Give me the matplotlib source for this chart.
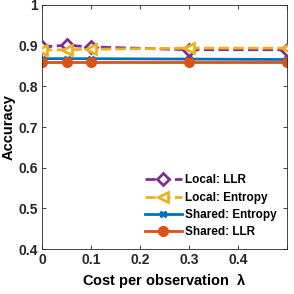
import matplotlib
matplotlib.use("Agg")
import matplotlib.pyplot as plt

plt.rcParams['font.family'] = ['Liberation Sans', 'DejaVu Sans']
plt.rcParams['font.weight'] = 'bold'

x = [0, 0.05, 0.1, 0.3, 0.5]
local_llr = [0.897, 0.901, 0.897, 0.890, 0.890]
local_entropy = [0.889, 0.890, 0.891, 0.894, 0.894]
shared_entropy = [0.868, 0.868, 0.868, 0.867, 0.866]
shared_llr = [0.860, 0.860, 0.860, 0.860, 0.860]
labels = ['Local: LLR', 'Local: Entropy', 'Shared: Entropy', 'Shared: LLR']

fig = plt.figure(figsize=(2.94, 2.94), dpi=100)
ax = fig.add_axes([0.143, 0.153, 0.833, 0.830])

ax.plot(x, local_llr, color='#7E2F8E', ls='--', lw=2, marker='D', ms=6.5,
        mfc='white', mew=2, label=labels[0], zorder=3)
ax.plot(x, local_entropy, color='#EDB120', ls='--', lw=2, marker='<', ms=7.5,
        mfc='white', mew=2, label=labels[1], zorder=4)
ax.plot(x, shared_entropy, color='#0072BD', ls='-', lw=2, marker='x', ms=4,
        mew=2, label=labels[2], zorder=2)
ax.plot(x, shared_llr, color='#D95319', ls='-', lw=2, marker='o', ms=7,
        mfc='#D95319', label=labels[3], zorder=2)

ax.set_xlim(0, 0.5)
ax.set_ylim(0.4, 1.0)
ax.set_xticks([0, 0.1, 0.2, 0.3, 0.4, 0.5])
ax.set_xticklabels(['0', '0.1', '0.2', '0.3', '0.4', ''])
ax.set_yticks([0.4, 0.5, 0.6, 0.7, 0.8, 0.9, 1.0])
ax.set_yticklabels(['0.4', '0.5', '0.6', '0.7', '0.8', '0.9', '1'])
ax.tick_params(direction='in', top=True, right=True, labelsize=10,
               colors='#262626', length=3, width=0.6, pad=3)
for s in ax.spines.values():
    s.set_color('#262626')
    s.set_linewidth(0.6)
ax.set_xlabel(r'Cost per observation  $\mathregular{\lambda}$', fontsize=10.5,
              fontweight='bold', labelpad=3)
ax.set_ylabel('Accuracy', fontsize=10.5, fontweight='bold', labelpad=2)

ax.legend(loc='lower right', frameon=False, fontsize=8.5, handlelength=3.2,
          handletextpad=0.2, labelspacing=0.45, borderaxespad=0.5)

fig.savefig('out.png', dpi=100)
